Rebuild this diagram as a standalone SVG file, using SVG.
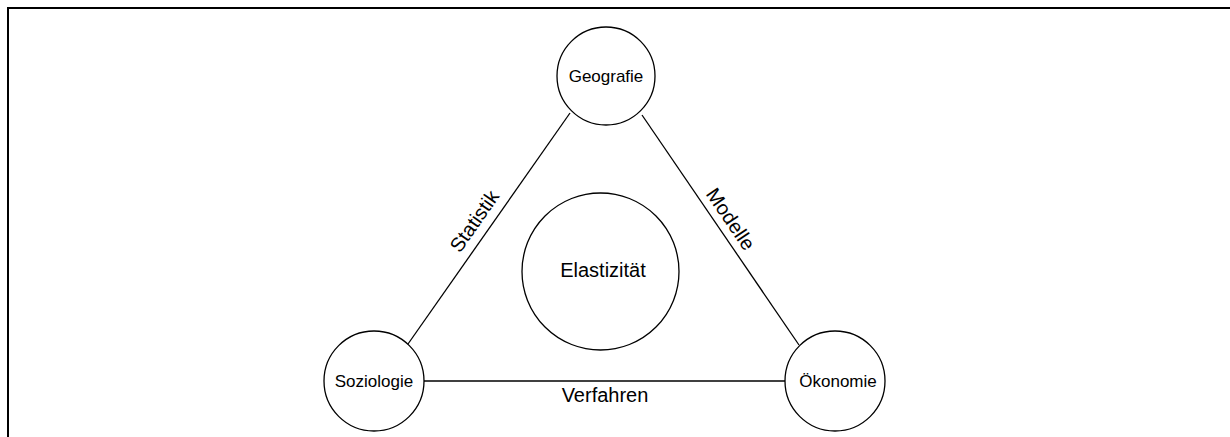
<svg xmlns="http://www.w3.org/2000/svg" width="1230" height="437" viewBox="0 0 1230 437">
  <style>
    .node { fill: #ffffff; stroke: #000000; stroke-width: 1.3; }
    .edge { stroke: #000000; stroke-width: 1.3; fill: none; }
    .small { font-family: "Liberation Sans", Arial, sans-serif; font-size: 17px; fill: #000; text-anchor: middle; }
    .big { font-family: "Liberation Sans", Arial, sans-serif; font-size: 20px; fill: #000; text-anchor: middle; }
  </style>
  <rect x="0" y="0" width="1230" height="437" fill="#ffffff"/>
  <rect id="frame" x="8" y="8" width="1260" height="460" fill="none" stroke="#000" stroke-width="2"/>
  <g id="connectors">
    <line class="edge" x1="570" y1="113" x2="408" y2="344"/>
    <line class="edge" x1="642" y1="115" x2="799" y2="345"/>
    <line class="edge" x1="424" y1="381" x2="785" y2="381"/>
    <text class="big" x="480" y="225" transform="rotate(-55 480 225)">Statistik</text>
    <text class="big" x="725" y="223" transform="rotate(55.7 725 223)">Modelle</text>
    <text class="big" x="605" y="402">Verfahren</text>
  </g>
  <g id="geografie">
    <circle class="node" cx="606" cy="76" r="49"/>
    <text class="small" x="606" y="82">Geografie</text>
  </g>
  <g id="soziologie">
    <circle class="node" cx="374" cy="381" r="50"/>
    <text class="small" x="374" y="387">Soziologie</text>
  </g>
  <g id="oekonomie">
    <circle class="node" cx="835" cy="381" r="50"/>
    <text class="small" x="838" y="387">Ökonomie</text>
  </g>
  <g id="elastizitaet">
    <circle class="node" cx="600.5" cy="271.5" r="78.5"/>
    <text class="big" x="603" y="277">Elastizität</text>
  </g>
</svg>
